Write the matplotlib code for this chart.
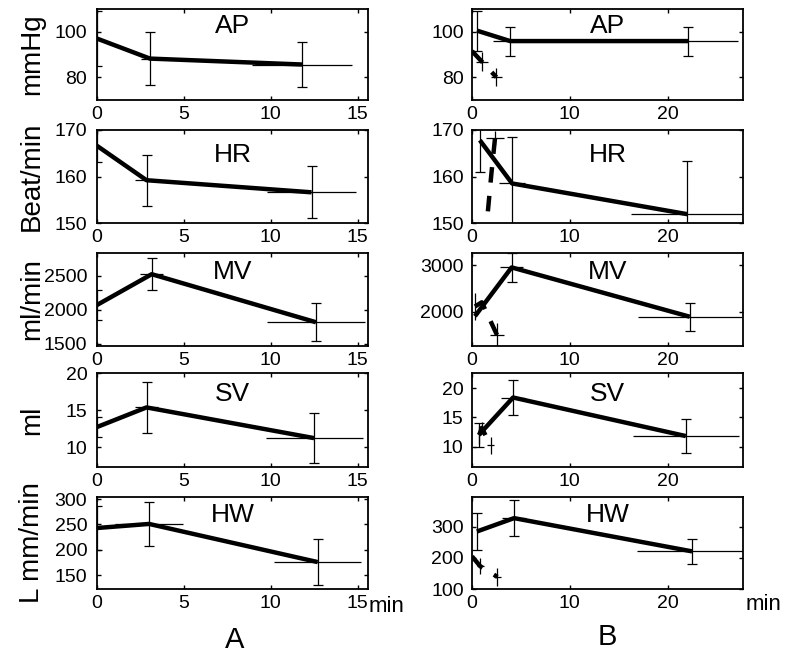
import matplotlib
matplotlib.use("Agg")
import matplotlib.pyplot as plt
import numpy as np

plt.rcParams['font.family'] = ['Liberation Sans', 'DejaVu Sans']

# ---- column A: time (min), mean, time spread, value spread
a_ap_t = [0, 3.05, 11.8]
a_ap_v = [97, 88.2, 85.6]
a_ap_xe = [0, 0.5, 2.9]
a_ap_ye = [12, 11.5, 10]

a_hr_t = [0, 2.85, 12.35]
a_hr_v = [166.6, 159.2, 156.6]
a_hr_xe = [0, 0.65, 2.55]
a_hr_ye = [3.5, 5.5, 5.6]

a_mv_t = [0, 3.15, 12.6]
a_mv_v = [2070, 2520, 1818]
a_mv_xe = [0, 0.67, 2.8]
a_mv_ye = [220, 230, 280]

a_sv_t = [0, 2.85, 12.5]
a_sv_v = [12.7, 15.35, 11.2]
a_sv_xe = [0, 0.65, 2.8]
a_sv_ye = [1.4, 3.5, 3.4]

a_hw_t = [0, 3.0, 12.7]
a_hw_v = [243, 251, 176]
a_hw_xe = [0, 1.95, 2.5]
a_hw_ye = [44, 43, 45]

# ---- column B, main run
b_ap_t = [0.5, 3.9, 22.1]
b_ap_v = [100.5, 95.9, 95.9]
b_ap_xe = [0, 1.8, 5.1]
b_ap_ye = [8.8, 6.4, 6.4]

b_hr_t = [0.8, 4.1, 22.0]
b_hr_v = [167.8, 158.5, 151.9]
b_hr_xe = [0, 1.35, 5.7]
b_hr_ye = [6.9, 10, 11.5]

b_mv_t = [0.3, 4.05, 22.25]
b_mv_v = [1900, 2950, 1890]
b_mv_xe = [0, 1.2, 5.3]
b_mv_ye = [0, 320, 300]

b_sv_t = [0.7, 4.2, 21.85]
b_sv_v = [12.0, 18.4, 11.8]
b_sv_xe = [0, 1.2, 5.4]
b_sv_ye = [2.0, 3.0, 2.9]

b_hw_t = [0.5, 4.3, 22.5]
b_hw_v = [285, 328, 221]
b_hw_xe = [0, 1.2, 5.6]
b_hw_ye = [58, 58, 40]

# ---- column B, short run (dashed)
c_ap_t = [0, 1.0, 2.5]
c_ap_v = [91.5, 86.9, 80]
c_ap_xe = [0, 0.6, 0.6]
c_ap_ye = [0, 4, 4]

c_hr_t = [2.35, 2.0, 1.6]
c_hr_v = [168.2, 161, 152]
c_hr_xe = [0.9, 0, 0]
c_hr_ye = [1.5, 0, 0]

c_mv_t = [0.3, 1.0, 2.55]
c_mv_v = [2110, 2200, 1500]
c_mv_xe = [0, 0.3, 0.75]
c_mv_ye = [300, 0, 250]

c_sv_t = [0.75, 1.0, 1.9]
c_sv_v = [12.0, 13.2, 10.2]
c_sv_xe = [0, 0.2, 0.35]
c_sv_ye = [1.5, 1.0, 1.5]

c_hw_t = [0, 0.85, 2.6]
c_hw_v = [205, 173, 139]
c_hw_xe = [0, 0.35, 0.35]
c_hw_ye = [0, 26, 30]

names = ['AP', 'HR', 'MV', 'SV', 'HW']
units = ['mmHg', 'Beat/min', 'ml/min', 'ml', 'L mm/min']

a_ylims = [(70, 110), (150, 170), (1470, 2830), (7.3, 20), (123, 304)]
b_ylims = [(70, 110), (150, 170), (1260, 3260), (6.5, 22.6), (100, 396)]
a_yticks = [[80, 100], [150, 160, 170], [1500, 2000, 2500], [10, 15, 20], [150, 200, 250, 300]]
b_yticks = [[80, 100], [150, 160, 170], [2000, 3000], [10, 15, 20], [100, 200, 300]]
a_xticks = [0, 5, 10, 15]
b_xticks = [0, 10, 20]

col_a = [
    (a_ap_t, a_ap_v, a_ap_xe, a_ap_ye),
    (a_hr_t, a_hr_v, a_hr_xe, a_hr_ye),
    (a_mv_t, a_mv_v, a_mv_xe, a_mv_ye),
    (a_sv_t, a_sv_v, a_sv_xe, a_sv_ye),
    (a_hw_t, a_hw_v, a_hw_xe, a_hw_ye),
]
col_b = [
    (b_ap_t, b_ap_v, b_ap_xe, b_ap_ye),
    (b_hr_t, b_hr_v, b_hr_xe, b_hr_ye),
    (b_mv_t, b_mv_v, b_mv_xe, b_mv_ye),
    (b_sv_t, b_sv_v, b_sv_xe, b_sv_ye),
    (b_hw_t, b_hw_v, b_hw_xe, b_hw_ye),
]
col_c = [
    (c_ap_t, c_ap_v, c_ap_xe, c_ap_ye),
    (c_hr_t, c_hr_v, c_hr_xe, c_hr_ye),
    (c_mv_t, c_mv_v, c_mv_xe, c_mv_ye),
    (c_sv_t, c_sv_v, c_sv_xe, c_sv_ye),
    (c_hw_t, c_hw_v, c_hw_xe, c_hw_ye),
]

W, H = 790, 659
rows_px = [(9, 100), (130, 223), (253, 346), (373, 467), (497, 589)]
title_y = [0.81, 0.73, 0.80, 0.78, 0.80]


def draw_series(ax, data, lw, ls, cap):
    t, v, xe, ye = [np.asarray(d, dtype=float) for d in data]
    ax.plot(t, v, color='black', lw=lw, ls=ls, solid_capstyle='butt',
            dash_capstyle='butt', zorder=3)
    m = ye > 0
    if m.any():
        ax.errorbar(t[m], v[m], yerr=ye[m], fmt='none', ecolor='black',
                    elinewidth=0.9, capsize=cap, capthick=0.9, zorder=2)
    m = xe > 0
    if m.any():
        ax.errorbar(t[m], v[m], xerr=xe[m], fmt='none', ecolor='black',
                    elinewidth=0.9, capsize=0, zorder=2)


def setup(ax, xlim, xticks, ylim, yticks, title, ty, ypad):
    ax.set_xlim(*xlim)
    ax.set_ylim(*ylim)
    ax.set_xticks(xticks)
    ax.set_yticks(yticks)
    ax.tick_params(direction='in', top=True, right=True, length=3,
                   width=1, labelsize=14)
    ax.tick_params(axis='x', pad=4)
    ax.tick_params(axis='y', pad=ypad)
    for s in ax.spines.values():
        s.set_linewidth(1.3)
    ax.text(0.5, ty, title, transform=ax.transAxes, ha='center',
            va='center', fontsize=19)


fig = plt.figure(figsize=(W / 100, H / 100), dpi=100)

for i in range(5):
    top, bot = rows_px[i]
    y0 = 1 - bot / H
    h = (bot - top) / H

    ax = fig.add_axes([97 / W, y0, 271 / W, h])
    setup(ax, (0, 15.6), a_xticks, a_ylims[i], a_yticks[i], names[i], title_y[i], 7)
    draw_series(ax, col_a[i], 3.2, '-', 3.5)
    fig.text(32 / W, 1 - (top + bot) / 2 / H, units[i], rotation=90,
             ha='center', va='center', fontsize=20)

    bx = fig.add_axes([472 / W, y0, 271 / W, h])
    setup(bx, (0, 27.7), b_xticks, b_ylims[i], b_yticks[i], names[i], title_y[i], 6)
    draw_series(bx, col_b[i], 3.2, '-', 3.5)
    draw_series(bx, col_c[i], 3.2, (0, (3.5, 3)), 0)

fig.text(369 / W, 1 - 607 / H, 'min', ha='left', va='center', fontsize=16)
fig.text(746 / W, 1 - 604 / H, 'min', ha='left', va='center', fontsize=16)
fig.text(235 / W, 1 - 640 / H, 'A', ha='center', va='center', fontsize=21)
fig.text(607 / W, 1 - 637 / H, 'B', ha='center', va='center', fontsize=21)

fig.savefig('out.png', dpi=100)
